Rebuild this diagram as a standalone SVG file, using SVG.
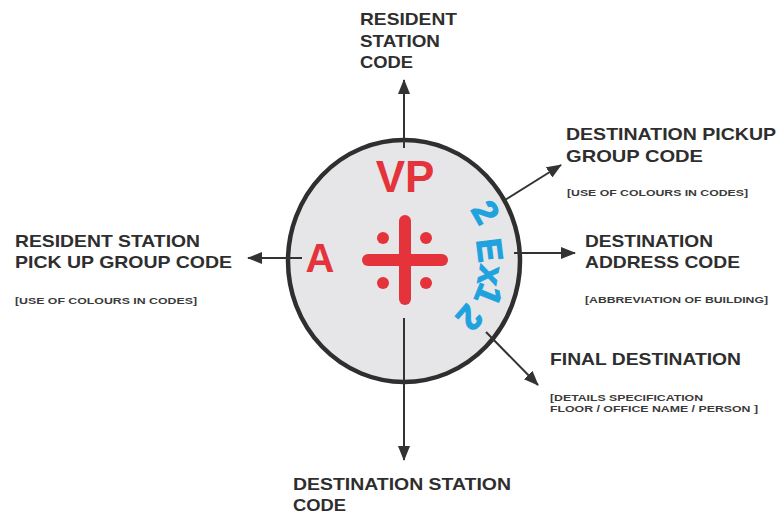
<svg xmlns="http://www.w3.org/2000/svg" width="778" height="514" viewBox="0 0 778 514">
<style>
.lbl{font-family:"Liberation Sans",Arial,sans-serif;font-weight:bold;font-size:17px;fill:#2e2e2e}
.sm{font-family:"Liberation Sans",Arial,sans-serif;font-weight:bold;font-size:9px;fill:#3a3a3a}
.red{font-family:"Liberation Sans",Arial,sans-serif;font-weight:bold;fill:#e5333b}
.blue{font-family:"Liberation Sans",Arial,sans-serif;font-weight:bold;font-size:35px;fill:#1fa3de;stroke:#1fa3de;stroke-width:1.2}
.conn{stroke:#333;stroke-width:2;fill:none}
</style>
<defs>
<marker id="ah" markerUnits="userSpaceOnUse" viewBox="0 0 15 12" markerWidth="15" markerHeight="12" refX="14" refY="6" orient="auto">
<path d="M0,0 L15,6 L0,12 z" fill="#333"/>
</marker>
</defs>
<rect width="778" height="514" fill="#fff"/>
<g id="disc">
<ellipse cx="404" cy="261" rx="116" ry="121" fill="#e6e6e8" stroke="#2f2f2f" stroke-width="4.5"/>
</g>
<g id="connectors" class="conn">
<line x1="404" y1="148" x2="404" y2="80" marker-end="url(#ah)"/>
<line x1="404" y1="318" x2="404" y2="460" marker-end="url(#ah)"/>
<line x1="302" y1="258" x2="248" y2="258" marker-end="url(#ah)"/>
<line x1="514" y1="253" x2="575" y2="253" marker-end="url(#ah)"/>
<line x1="505" y1="200" x2="561" y2="165" marker-end="url(#ah)"/>
<line x1="486" y1="332" x2="538" y2="385" marker-end="url(#ah)"/>
</g>
<g id="center-symbol">
<text class="red" x="405" y="192" font-size="44" text-anchor="middle">VP</text>
<text class="red" x="320" y="272" font-size="40" text-anchor="middle">A</text>
<line x1="405" y1="221" x2="405" y2="299" stroke="#e5333b" stroke-width="12" stroke-linecap="round"/>
<line x1="368" y1="260" x2="442" y2="260" stroke="#e5333b" stroke-width="12" stroke-linecap="round"/>
<g fill="#e5333b">
<circle cx="383" cy="238" r="6"/>
<circle cx="426" cy="238" r="6"/>
<circle cx="383" cy="283" r="6"/>
<circle cx="426" cy="283" r="6"/>
</g>
</g>
<g id="blue-code">
<text class="blue" text-anchor="middle" transform="translate(486,212) rotate(60)" y="12.5">2</text>
<text class="blue" text-anchor="middle" transform="translate(490,250) rotate(83)" y="12.5">E</text>
<text class="blue" text-anchor="middle" transform="translate(488,275) rotate(100)" y="9">x</text>
<text class="blue" text-anchor="middle" transform="translate(489,295) rotate(112)" y="12.5">1</text>
<text class="blue" text-anchor="middle" transform="translate(470,318) rotate(131)" y="12.5">2</text>
</g>
<g id="top-label">
<text class="lbl" x="360" y="25" textLength="97" lengthAdjust="spacingAndGlyphs">RESIDENT</text>
<text class="lbl" x="360" y="47" textLength="80" lengthAdjust="spacingAndGlyphs">STATION</text>
<text class="lbl" x="360" y="68" textLength="53" lengthAdjust="spacingAndGlyphs">CODE</text>
</g>
<g id="pickup-label">
<text class="lbl" x="566" y="140" textLength="210" lengthAdjust="spacingAndGlyphs">DESTINATION PICKUP</text>
<text class="lbl" x="566" y="162" textLength="137" lengthAdjust="spacingAndGlyphs">GROUP CODE</text>
<text class="sm" x="567" y="196" textLength="181" lengthAdjust="spacingAndGlyphs">[USE OF COLOURS IN CODES]</text>
</g>
<g id="address-label">
<text class="lbl" x="585" y="247" textLength="128" lengthAdjust="spacingAndGlyphs">DESTINATION</text>
<text class="lbl" x="585" y="268" textLength="155" lengthAdjust="spacingAndGlyphs">ADDRESS CODE</text>
<text class="sm" x="585" y="303" textLength="183" lengthAdjust="spacingAndGlyphs">[ABBREVIATION OF BUILDING]</text>
</g>
<g id="left-label">
<text class="lbl" x="15" y="247" textLength="185" lengthAdjust="spacingAndGlyphs">RESIDENT STATION</text>
<text class="lbl" x="15" y="268" textLength="217" lengthAdjust="spacingAndGlyphs">PICK UP GROUP CODE</text>
<text class="sm" x="15" y="304" textLength="182" lengthAdjust="spacingAndGlyphs">[USE OF COLOURS IN CODES]</text>
</g>
<g id="final-label">
<text class="lbl" x="550" y="365" textLength="191" lengthAdjust="spacingAndGlyphs">FINAL DESTINATION</text>
<text class="sm" x="550" y="401" textLength="153" lengthAdjust="spacingAndGlyphs">[DETAILS SPECIFICATION</text>
<text class="sm" x="550" y="412" textLength="208" lengthAdjust="spacingAndGlyphs">FLOOR / OFFICE NAME / PERSON ]</text>
</g>
<g id="bottom-label">
<text class="lbl" x="293" y="490" textLength="218" lengthAdjust="spacingAndGlyphs">DESTINATION STATION</text>
<text class="lbl" x="293" y="511" textLength="53" lengthAdjust="spacingAndGlyphs">CODE</text>
</g>
</svg>
